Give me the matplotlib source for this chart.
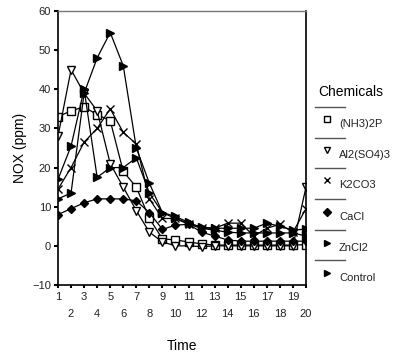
import matplotlib
matplotlib.use("Agg")
import matplotlib.pyplot as plt
from matplotlib.lines import Line2D

plt.rcParams['font.family'] = ['Liberation Sans', 'DejaVu Sans']

time = list(range(1, 21))
nh3 = [33, 34.5, 35.5, 33.5, 32, 19, 15, 7, 1.8, 1.5, 1.0, 0.5, 0.2, 0.2, 0.2, 0.2, 0.2, 0.2, 0.2, 0.3]
al2 = [28, 45, 39, 34.5, 21, 15, 9, 3.5, 1, 0, 0, -0.2, 0, 0, 0, 0, 0, 0, 0, 15]
k2co3 = [14.5, 20, 26.5, 30, 35, 29, 26, 12, 7, 7, 5.5, 4.5, 4.5, 5.8, 5.8, 2.5, 4.5, 5.5, 3.5, 9.5]
cacl = [8, 9.5, 11, 12, 12, 12, 11.5, 8.5, 4.2, 5.3, 5.5, 3.5, 2.5, 1.5, 1.2, 1.2, 1.2, 1.2, 1.2, 1.2]
zncl2 = [17, 25.5, 40, 17.5, 20, 20, 22.5, 13.5, 8.5, 7, 5.8, 4.8, 4.5, 4.5, 4.5, 4.5, 5.8, 5, 4, 4.3]
control = [12, 13.5, 39, 48, 54.5, 46, 25, 16, 8.5, 7.5, 6, 4.5, 4, 3.5, 3.3, 3.3, 3.3, 3.3, 3.3, 2.5]

names = ["(NH3)2P", "Al2(SO4)3", "K2CO3", "CaCl", "ZnCl2", "Control"]
series = [nh3, al2, k2co3, cacl, zncl2, control]
styles = [dict(marker='s', mfc='white', ms=5.5),
          dict(marker='v', mfc='white', ms=6),
          dict(marker='x', mfc='black', ms=6, mew=1),
          dict(marker='D', mfc='black', ms=4.5),
          dict(marker='>', mfc='black', ms=6),
          dict(marker='>', mfc='black', ms=6)]

fig = plt.figure(figsize=(4.01, 3.54), dpi=100)
ax = fig.add_axes([58/401, 1-285/354, 248/401, 274/354])

for vals, st in zip(series, styles):
    ax.plot(time, vals, color='black', lw=0.9, mec='black', **st)

ax.set_xlim(1, 20)
ax.set_ylim(-10, 60)
ax.set_yticks(range(-10, 61, 10))
ax.set_xticks(time[0::2])
ax.set_xticks(time[1::2], minor=True)
ax.set_xticklabels([str(t) for t in time[0::2]])
ax.set_xticklabels([str(t) for t in time[1::2]], minor=True)
ax.tick_params(axis='x', which='major', direction='out', length=2, width=1.5, pad=3, labelsize=8, labelcolor='#222222')
ax.tick_params(axis='x', which='minor', direction='out', length=2, width=1.5, pad=15, labelsize=8, labelcolor='#222222')
ax.tick_params(axis='y', direction='out', length=3, width=1.5, pad=2, labelsize=8, labelcolor='#222222')
for s in ['left', 'bottom', 'right']:
    ax.spines[s].set_linewidth(1.2)
ax.spines['top'].set_color('#777777')
ax.spines['top'].set_linewidth(1.0)

ax.set_xlabel("Time", fontsize=10, labelpad=15)
ax.set_ylabel("NOX (ppm)", fontsize=10, labelpad=4)

# legend with separator lines
fig.text(318/401, 1-92/354, "Chemicals", fontsize=10, va='center', ha='left')
sep_y = [107, 138, 168, 199, 230, 260]
mark_y = [119, 150, 180, 212, 243, 273]
for i, (nm, st) in enumerate(zip(names, styles)):
    yy = 1 - sep_y[i]/354
    fig.add_artist(Line2D([315/401, 345/401], [yy, yy], color='#555555', lw=1.0))
    my = 1 - mark_y[i]/354
    small = dict(st)
    small['ms'] = st['ms'] * 0.8
    fig.add_artist(Line2D([327/401], [my], color='black', mec='black', ls='none', **small))
    fig.text(339/401, 1-(mark_y[i]+5)/354, nm, fontsize=8, va='center', ha='left', color='#222222')

fig.savefig("out.png", dpi=100)
